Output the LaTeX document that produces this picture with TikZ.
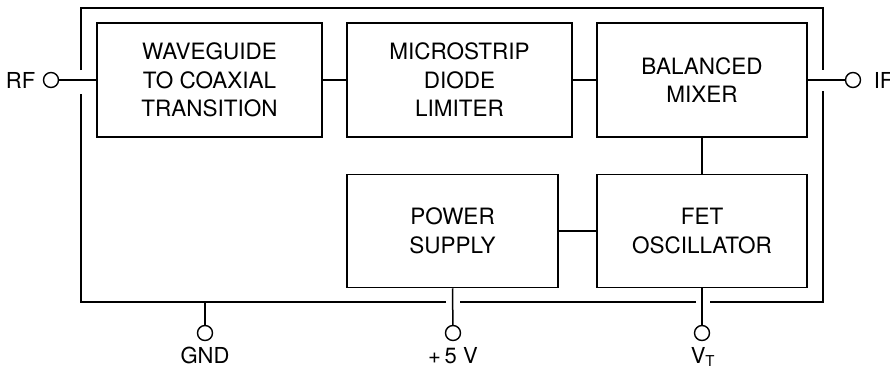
\documentclass[tikz,border=0pt]{standalone}
\usepackage{fontspec}
\setmainfont{TeX Gyre Heros}
\begin{document}
\begin{tikzpicture}[x=1pt,y=-1pt,line width=1.5pt,
  blk/.style={draw,inner sep=0pt,align=center,font=\fontsize{22.5}{28.5}\selectfont},
  term/.style={draw,circle,inner sep=0pt,minimum size=15pt,line width=1.4pt},
  lbl/.style={inner sep=0pt,font=\fontsize{22}{25}\selectfont}]
\useasboundingbox (0,0) rectangle (890,367);
% blocks
\node[blk,minimum width=225pt,minimum height=114pt] (wg) at (209.5,80) {WAVEGUIDE\\TO COAXIAL\\TRANSITION};
\node[blk,minimum width=225pt,minimum height=114pt] (ms) at (459.5,80) {MICROSTRIP\\DIODE\\LIMITER};
\node[blk,minimum width=210pt,minimum height=114pt] (mx) at (702,80) {BALANCED\\MIXER};
\node[blk,minimum width=211pt,minimum height=113pt] (ps) at (452.5,231) {POWER\\SUPPLY};
\node[blk,minimum width=210pt,minimum height=113pt] (fet) at (702,231) {FET\\OSCILLATOR};
% outer housing with gaps
\draw (81,70) -- (81,8) -- (823,8) -- (823,70);
\draw (823,91) -- (823,302) -- (710,302);
\draw (696,302) -- (460,302);
\draw (446,302) -- (81,302) -- (81,94);
% terminals
\node[term] (rf) at (51,80) {};
\node[term] (if) at (853,80) {};
\node[term] (gnd) at (205,333) {};
\node[term] (p5) at (453,333) {};
\node[term] (vt) at (702,333) {};
\coordinate (gndtap) at (205,302);
% labels
\node[lbl,anchor=base east] (rfl) at (36,88) {RF};
\node[lbl,anchor=base west] (ifl) at (873,88) {IF};
\node[lbl,anchor=base] (gndl) at (205,363) {GND};
\node[lbl,anchor=base] (p5l) at (453,363) {+\,5 V};
\node[lbl,anchor=base west] (vtl) at (690,363) {V\raisebox{-3pt}{\fontsize{15}{15}\selectfont T}};
% connections
\draw (rf) -- (wg);
\draw (wg) -- (ms);
\draw (ms) -- (mx);
\draw (mx) -- (if);
\draw (mx) -- (fet);
\draw (ps) -- (fet);
\draw (gndtap) -- (gnd);
\draw (ps.south) -- (p5);
\draw (fet.south) -- (vt);
\end{tikzpicture}
\end{document}
